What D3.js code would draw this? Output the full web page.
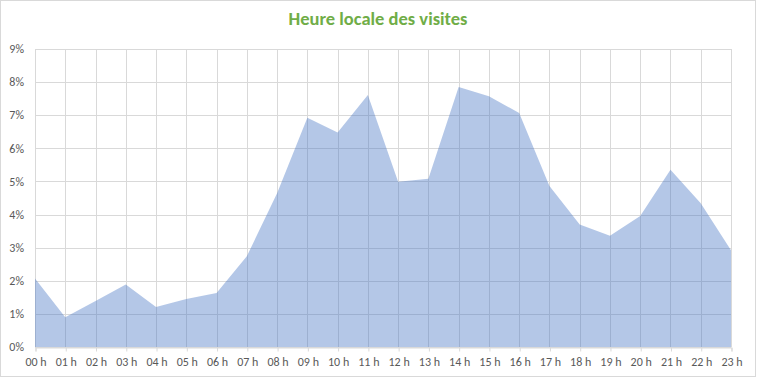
<!DOCTYPE html>
<html>
<head>
<meta charset="utf-8">
<script src="https://cdn.jsdelivr.net/npm/d3@7"></script>
<style>
  body { margin: 0; background: #fff; }
  svg text { font-family: Carlito, Lato, "Liberation Sans", sans-serif; }
</style>
</head>
<body>
<svg id="chart"></svg>
<script>
// heures (catégories) et part des visites en %
const hours = ["00 h", "01 h", "02 h", "03 h", "04 h", "05 h", "06 h", "07 h", "08 h", "09 h", "10 h", "11 h",
               "12 h", "13 h", "14 h", "15 h", "16 h", "17 h", "18 h", "19 h", "20 h", "21 h", "22 h", "23 h"];
const visits = [2.07, 0.90, 1.39, 1.89, 1.21, 1.45, 1.63, 2.74, 4.64, 6.92, 6.48, 7.61,
                4.99, 5.08, 7.85, 7.57, 7.07, 4.86, 3.70, 3.36, 3.96, 5.35, 4.34, 2.92];
const yTicks = [0, 1, 2, 3, 4, 5, 6, 7, 8, 9];
const title = "Heure locale des visites";

function drawArea() {
    const width = 757;
    const height = 378;
    const margin = { top: 49, right: 26, bottom: 31, left: 35 };

    const svg = d3.select("#chart")
        .attr("width", width)
        .attr("height", height);

    // cadre du graphique
    svg.append("rect")
        .attr("x", 0.5).attr("y", 0.5)
        .attr("width", width - 2).attr("height", height - 2)
        .attr("fill", "#fff")
        .attr("stroke", "#d9d9d9");

    const x = d3.scalePoint()
        .domain(hours)
        .range([margin.left, width - margin.right]);

    const y = d3.scaleLinear()
        .domain([0, 9])
        .range([height - margin.bottom, margin.top]);

    // grille horizontale
    svg.append("g")
        .selectAll("line")
        .data(yTicks)
        .enter().append("line")
        .attr("x1", margin.left)
        .attr("x2", width - margin.right)
        .attr("y1", d => Math.round(y(d)) + 0.5)
        .attr("y2", d => Math.round(y(d)) + 0.5)
        .attr("stroke", "#d9d9d9");

    // grille verticale
    svg.append("g")
        .selectAll("line")
        .data(hours)
        .enter().append("line")
        .attr("x1", d => Math.round(x(d)) + 0.5)
        .attr("x2", d => Math.round(x(d)) + 0.5)
        .attr("y1", margin.top)
        .attr("y2", height - margin.bottom)
        .attr("stroke", "#d9d9d9");

    const area = d3.area()
        .x((d, i) => x(hours[i]))
        .y0(y(0))
        .y1(d => y(d));

    svg.append("path")
        .datum(visits)
        .attr("d", area)
        .attr("fill", "#4472c4")
        .attr("fill-opacity", 0.4);

    // axe X
    const gX = svg.append("g")
        .attr("transform", `translate(0.5,${Math.round(y(0)) + 0.5})`)
        .call(d3.axisBottom(x).tickSize(4).tickPadding(6));
    gX.select(".domain").attr("stroke", "#d9d9d9");
    gX.selectAll(".tick line").attr("stroke", "#d9d9d9");
    gX.selectAll("text")
        .attr("fill", "#595959")
        .style("font-size", "12px")
        .style("font-family", "Carlito, Lato, sans-serif");

    // axe Y (étiquettes seulement)
    svg.append("g")
        .selectAll("text")
        .data(yTicks)
        .enter().append("text")
        .attr("x", 24)
        .attr("y", d => y(d))
        .attr("dy", "0.35em")
        .attr("text-anchor", "end")
        .attr("fill", "#595959")
        .style("font-size", "12px")
        .text(d => d + "%");

    svg.append("text")
        .attr("x", 378)
        .attr("y", 25)
        .attr("text-anchor", "middle")
        .attr("fill", "#70ad47")
        .style("font-size", "18.5px")
        .style("font-weight", "bold")
        .text(title);
}

drawArea();
</script>
</body>
</html>
